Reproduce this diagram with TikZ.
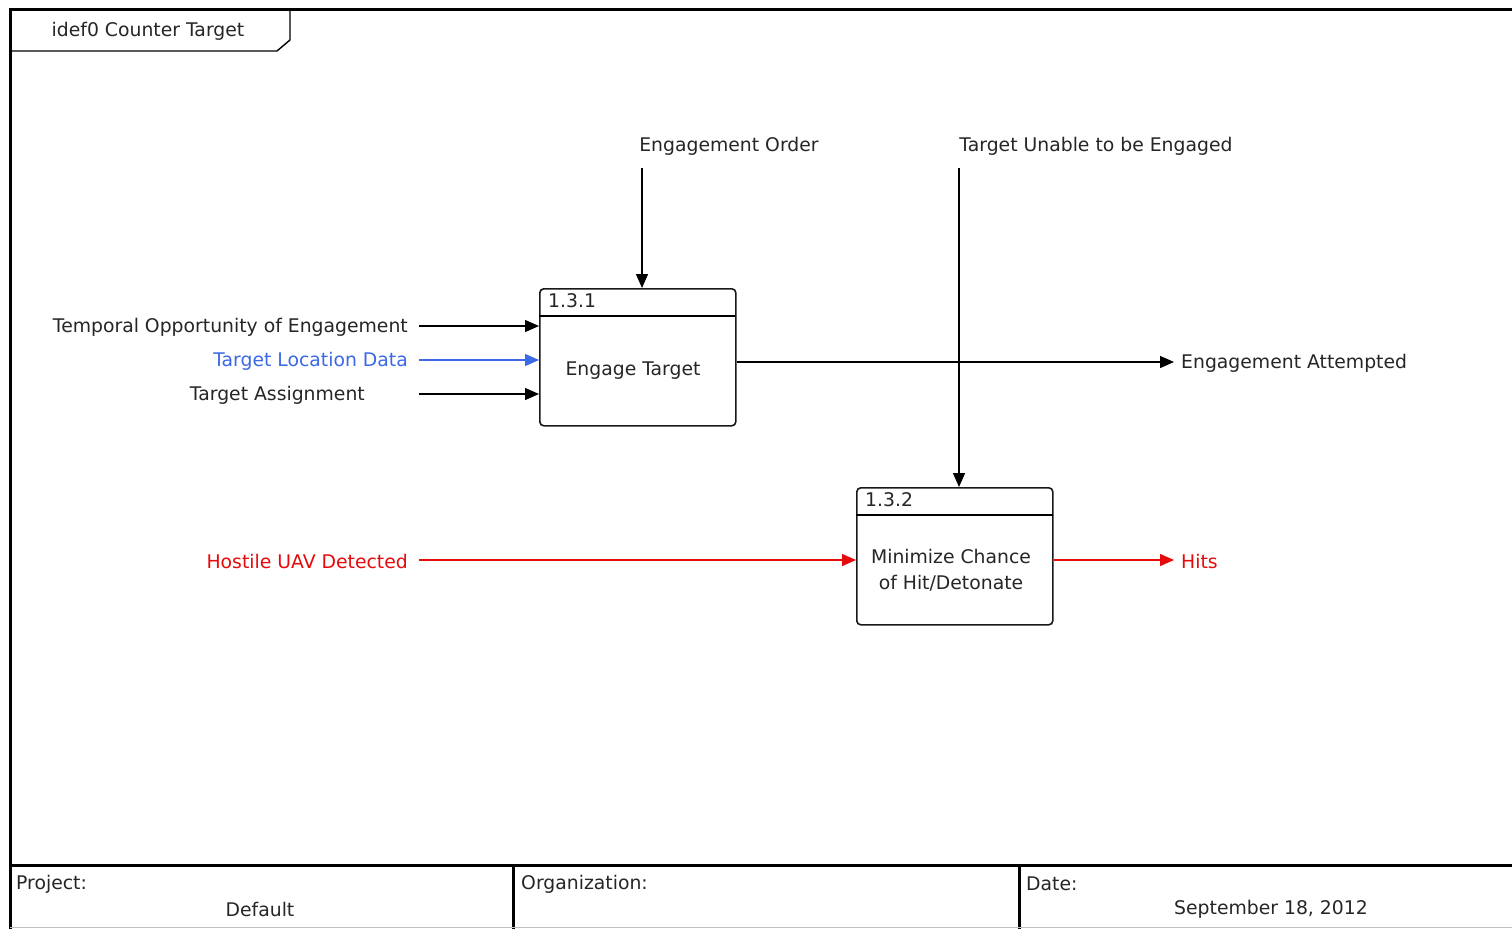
\documentclass[tikz,border=0pt]{standalone}
\usepackage{fontspec}
\setmainfont{DejaVu Sans}
\usetikzlibrary{arrows.meta}
\definecolor{lblue}{RGB}{60,105,230}
\definecolor{lred}{RGB}{230,10,10}
\tikzset{
  every node/.style={font=\fontsize{18.8}{22}\selectfont, text=black!85, inner sep=0pt},
  frameline/.style={line width=3pt, black},
  actbox/.style={draw=black!90, line width=1.6pt, rounded corners=4pt, minimum width=196pt, minimum height=137pt},
  conn/.style={line width=1.4pt, -{Triangle[length=14pt,width=12pt]}},
}
\begin{document}
\begin{tikzpicture}[x=1pt,y=-1pt]
\useasboundingbox[fill=white] (0,0) rectangle (1512,929);
% frame
\draw[frameline] (1512,9) -- (10,9) -- (10,929);
\draw[frameline] (10,865) -- (1512,865);
\draw[frameline] (513,865) -- (513,929);
\draw[frameline] (1019,865) -- (1019,929);
\draw[black!25, line width=1pt] (10,927.5) -- (1512,927.5);
% title block
\node[anchor=west] (proj) at (16,884) {Project:};
\node (projv) at (260,909) {Default};
\node[anchor=west] (org) at (521,884) {Organization:};
\node[anchor=west] (date) at (1026,884) {Date:};
\node (datev) at (1271,909) {September 18, 2012};
% title tab
\draw[line width=1.4pt] (290,9) -- (290,40) -- (277,51) -- (10,51);
\node (title) at (148,31) {idef0 Counter Target};
% boxes
\node[actbox, anchor=north west] (b1) at (539,288) {};
\draw[line width=1.4pt] (539,316) -- (735,316);
\node[anchor=west] (n1) at (548,301) {1.3.1};
\node (t1) at (633,371) {Engage Target};
\node[actbox, anchor=north west] (b2) at (856,487) {};
\draw[line width=1.4pt] (856,515) -- (1053,515);
\node[anchor=west] (n2) at (865,500) {1.3.2};
\node[align=center, font=\fontsize{18.8}{26}\selectfont] (t2) at (951,570) {Minimize Chance\\of Hit/Detonate};
% labels
\node (eo) at (729,146) {Engagement Order};
\node (tu) at (1096,146) {Target Unable to be Engaged};
\node[anchor=east] (top) at (408,327) {Temporal Opportunity of Engagement};
\node[anchor=east, text=lblue] (tld) at (408,361) {Target Location Data};
\node[anchor=east] (ta) at (365,395) {Target Assignment};
\node[anchor=west] (ea) at (1181,363) {Engagement Attempted};
\node[anchor=east, text=lred] (hu) at (408,561) {Hostile UAV Detected};
\node[anchor=west, text=lred] (hits) at (1181,561) {Hits};
% coordinates
\coordinate (eoS) at (642,168);
\coordinate (tuS) at (959,168);
\coordinate (topS) at (419,326);
\coordinate (tldS) at (419,360);
\coordinate (taS) at (419,394);
\coordinate (huS) at (419,560);
\coordinate (eaY) at (0,362);
% connectors
\draw[conn] (eoS) -- (eoS |- b1.north);
\draw[conn] (tuS) -- (tuS |- b2.north);
\draw[conn] (topS) -- (topS -| b1.west);
\draw[conn, lblue] (tldS) -- (tldS -| b1.west);
\draw[conn] (taS) -- (taS -| b1.west);
\draw[conn] (b1.east |- eaY) -- ([xshift=-7pt]ea.west |- eaY);
\draw[conn, lred] (huS) -- (huS -| b2.west);
\draw[conn, lred] (b2.east |- huS) -- ([xshift=-7pt]hits.west |- huS);
\end{tikzpicture}
\end{document}
